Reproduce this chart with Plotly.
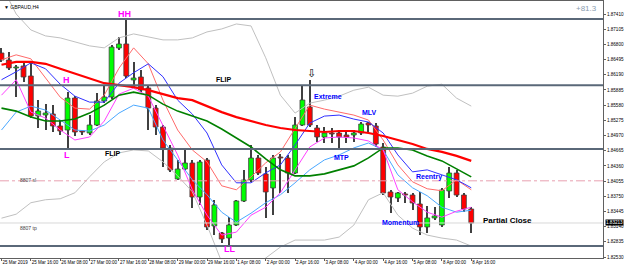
import plotly.graph_objects as go

# ---------------- data ----------------
tick_idx = list(range(0, 65, 4))
tick_text = ["25 Mar 2019", "25 Mar 16:00", "26 Mar 08:00", "27 Mar 00:00", "27 Mar 16:00",
             "28 Mar 08:00", "29 Mar 00:00", "29 Mar 16:00", "1 Apr 08:00", "2 Apr 00:00",
             "2 Apr 16:00", "3 Apr 08:00", "4 Apr 00:00", "4 Apr 16:00", "5 Apr 08:00",
             "8 Apr 00:00", "8 Apr 16:00"]
price_ticks = [1.82530, 1.82835, 1.83140, 1.83445, 1.83750, 1.84055, 1.84360, 1.84665,
               1.84970, 1.85275, 1.85580, 1.85885, 1.86190, 1.86495, 1.86800, 1.87105, 1.87410]

opens = [1.86627, 1.86486, 1.86326, 1.86366, 1.86165, 1.85362, 1.85382, 1.85402, 1.85161, 1.85081,
         1.85723, 1.85061, 1.85020, 1.85181, 1.85663, 1.85743, 1.86727, 1.86808, 1.86085, 1.86145,
         1.85924, 1.85522, 1.85141, 1.84719, 1.84097, 1.84297, 1.84418, 1.83735, 1.84478, 1.83153,
         1.83012, 1.82912, 1.83173, 1.83655, 1.84077, 1.84518, 1.84197, 1.83916, 1.84538, 1.84518,
         1.84217, 1.85181, 1.85542, 1.85121, 1.84940, 1.85020, 1.85020, 1.84980, 1.84980, 1.85020,
         1.85221, 1.85161, 1.84739, 1.83836, 1.83715, 1.83796, 1.83775, 1.83595, 1.83133, 1.83314,
         1.83173, 1.83856, 1.84217, 1.83775, 1.83494]
highs = [1.86727, 1.86647, 1.86386, 1.86426, 1.86426, 1.85683, 1.85603, 1.85583, 1.85281, 1.85844,
         1.85763, 1.85081, 1.85382, 1.85824, 1.85984, 1.86787, 1.86948, 1.87330, 1.86446, 1.86285,
         1.85984, 1.85583, 1.85181, 1.84779, 1.84478, 1.84679, 1.84478, 1.84478, 1.84518, 1.83675,
         1.83032, 1.83334, 1.83675, 1.84277, 1.84779, 1.84579, 1.84338, 1.84579, 1.84599, 1.84579,
         1.85342, 1.85964, 1.86085, 1.85181, 1.85141, 1.85121, 1.85081, 1.85040, 1.85081, 1.85241,
         1.85241, 1.85221, 1.84820, 1.83876, 1.83836, 1.83836, 1.83816, 1.83836, 1.83555, 1.83534,
         1.83916, 1.84338, 1.84277, 1.83816, 1.83534]
lows = [1.86446, 1.86285, 1.85743, 1.86044, 1.85322, 1.85121, 1.85081, 1.85040, 1.84980, 1.84719,
        1.84960, 1.84980, 1.84980, 1.85161, 1.85623, 1.85703, 1.86687, 1.86125, 1.85944, 1.85844,
        1.85081, 1.84980, 1.84338, 1.84237, 1.84077, 1.84277, 1.83514, 1.83575, 1.83073, 1.82972,
        1.82812, 1.82731, 1.83153, 1.83635, 1.84036, 1.84177, 1.83314, 1.83374, 1.83816, 1.83816,
        1.84197, 1.85161, 1.85141, 1.84840, 1.84820, 1.84820, 1.84679, 1.84820, 1.84840, 1.84980,
        1.85020, 1.84739, 1.83775, 1.83414, 1.83635, 1.83615, 1.83474, 1.82972, 1.83012, 1.83273,
        1.83133, 1.83715, 1.83735, 1.83434, 1.83012]
closes = [1.86486, 1.86326, 1.86346, 1.86145, 1.85362, 1.85462, 1.85422, 1.85161, 1.85061, 1.85723,
          1.85040, 1.85040, 1.85181, 1.85663, 1.85743, 1.86747, 1.86808, 1.86165, 1.86125, 1.85884,
          1.85522, 1.85141, 1.84719, 1.84277, 1.84297, 1.84418, 1.83735, 1.84438, 1.83133, 1.83575,
          1.82892, 1.83173, 1.83655, 1.84077, 1.84518, 1.84217, 1.83836, 1.84518, 1.84518, 1.84217,
          1.85181, 1.85683, 1.85181, 1.84940, 1.85020, 1.85000, 1.84940, 1.84940, 1.85020, 1.85201,
          1.85181, 1.84800, 1.83816, 1.83735, 1.83816, 1.83775, 1.83615, 1.83133, 1.83314, 1.83354,
          1.83876, 1.84217, 1.83775, 1.83494, 1.83213]

# indicator values sampled every second bar (bar index 0, 2, ..., 64)
ind_x = list(range(0, 65, 2))
bb_upper = [1.8799, 1.8741, 1.8709, 1.8697, 1.8693, 1.8685, 1.8677, 1.8673, 1.8693, 1.8701, 1.8695,
            1.8689, 1.8689, 1.8693, 1.8705, 1.8711, 1.8721, 1.8717, 1.8653, 1.8578, 1.8542, 1.8562,
            1.8568, 1.8576, 1.8588, 1.8594, 1.8578, 1.8576, 1.8582, 1.8596, 1.8600, 1.8572, 1.8556]
bb_lower = [1.8331, 1.8339, 1.8362, 1.8368, 1.8370, 1.8382, 1.8414, 1.8444, 1.8462, 1.8468, 1.8466,
            1.8444, 1.8416, 1.8384, 1.8317, 1.8243, 1.8217, 1.8227, 1.8251, 1.8273, 1.8287, 1.8287,
            1.8287, 1.8293, 1.8317, 1.8368, 1.8382, 1.8337, 1.8311, 1.8297, 1.8291, 1.8287, 1.8275]
ma_red = [1.8639, 1.8645, 1.8645, 1.8641, 1.8631, 1.8621, 1.8611, 1.8602, 1.8598, 1.8594, 1.8588,
          1.8580, 1.8572, 1.8568, 1.8556, 1.8544, 1.8534, 1.8526, 1.8518, 1.8512, 1.8508, 1.8506,
          1.8504, 1.8506, 1.8506, 1.8502, 1.8496, 1.8488, 1.8480, 1.8470, 1.8464, 1.8456, 1.8446]
ma_green = [1.8552, 1.8546, 1.8534, 1.8526, 1.8526, 1.8530, 1.8542, 1.8558, 1.8578, 1.8584, 1.8578,
            1.8560, 1.8546, 1.8536, 1.8526, 1.8510, 1.8492, 1.8474, 1.8450, 1.8428, 1.8416, 1.8416,
            1.8420, 1.8428, 1.8436, 1.8452, 1.8472, 1.8472, 1.8468, 1.8456, 1.8446, 1.8430, 1.8414]
ma_blue = [1.8609, 1.8625, 1.8643, 1.8631, 1.8600, 1.8576, 1.8564, 1.8564, 1.8602, 1.8623, 1.8641,
           1.8615, 1.8568, 1.8540, 1.8502, 1.8438, 1.8402, 1.8402, 1.8422, 1.8438, 1.8478, 1.8522,
           1.8536, 1.8538, 1.8530, 1.8524, 1.8502, 1.8458, 1.8424, 1.8428, 1.8418, 1.8408, 1.8392]
env_red = [1.8649, 1.8659, 1.8651, 1.8613, 1.8574, 1.8552, 1.8550, 1.8578, 1.8632, 1.8673, 1.8641,
           1.8568, 1.8508, 1.8468, 1.8444, 1.8396, 1.8388, 1.8414, 1.8442, 1.8464, 1.8512, 1.8558,
           1.8550, 1.8544, 1.8538, 1.8528, 1.8488, 1.8438, 1.8404, 1.8390, 1.8386, 1.8408, 1.8388]
env_magenta = [1.8578, 1.8609, 1.8544, 1.8532, 1.8508, 1.8488, 1.8494, 1.8526, 1.8580, 1.8592, 1.8576,
               1.8518, 1.8458, 1.8388, 1.8337, 1.8297, 1.8303, 1.8337, 1.8353, 1.8382, 1.8428, 1.8474,
               1.8492, 1.8494, 1.8492, 1.8486, 1.8468, 1.8388, 1.8364, 1.8343, 1.8333, 1.8345, 1.8353]
ma_lightblue = [1.8508, 1.8544, 1.8556, 1.8548, 1.8528, 1.8508, 1.8506, 1.8518, 1.8542, 1.8558, 1.8552,
                1.8488, 1.8448, 1.8408, 1.8378, 1.8343, 1.8323, 1.8341, 1.8362, 1.8378, 1.8402, 1.8428,
                1.8448, 1.8458, 1.8472, 1.8482, 1.8468, 1.8418, 1.8392, 1.8376, 1.8353, 1.8343, 1.8347]

# horizontal levels
level_hh = 1.8731
level_flip_up = 1.8598
level_flip_dn = 1.8470
level_sl = 1.8406
level_tp = 1.8275

# ---------------- figure ----------------
fig = go.Figure()

n = len(opens)
xs = list(range(n))
body_base = [min(o, c) for o, c in zip(opens, closes)]
body_h = [max(abs(c - o), 0.00004) for o, c in zip(opens, closes)]
body_col = ["#00ff00" if c >= o else "#ff0000" for o, c in zip(opens, closes)]

fig.add_trace(go.Bar(x=xs, y=[h - l for h, l in zip(highs, lows)], base=lows, width=0.14,
                     marker=dict(color="#404040", line=dict(width=0)), hoverinfo="skip"))
fig.add_trace(go.Bar(x=xs, y=body_h, base=body_base, width=0.66,
                     marker=dict(color=body_col, line=dict(color="#404040", width=0.8)),
                     hoverinfo="skip"))

def line(y, color, width, dash="solid"):
    fig.add_trace(go.Scatter(x=ind_x, y=y, mode="lines", line=dict(color=color, width=width, dash=dash),
                             hoverinfo="skip"))

line(bb_upper, "#c0c0c0", 1)
line(bb_lower, "#c0c0c0", 1)
line(ma_lightblue, "#4aa8ff", 1)
line(env_magenta, "#ff40ff", 1)
line(env_red, "#ff6a6a", 1)
line(ma_blue, "#3030ff", 1)
line(ma_green, "#008000", 1.6)
line(ma_red, "#ff0000", 2.2)

# horizontal level lines
for lv in [level_hh, level_flip_up, level_flip_dn, level_tp]:
    fig.add_hline(y=lv, line=dict(color="#5a6878", width=2))
fig.add_hline(y=level_sl, line=dict(color="#e8a0b0", width=1, dash="dashdot"))
fig.add_hline(y=closes[-1], line=dict(color="#d8d8d8", width=1))

def ann(x, y, text, color, size, bold=True, **kw):
    fig.add_annotation(x=x, y=y, text=("<b>%s</b>" % text) if bold else text, showarrow=False,
                       font=dict(family="Liberation Sans", size=size, color=color), **kw)

ann(16.8, 1.8741, "HH", "#ff00ff", 9)
ann(8.9, 1.8609, "H", "#ff00ff", 9)
ann(8.9, 1.8458, "L", "#ff00ff", 9)
ann(31.0, 1.8269, "LL", "#ff00ff", 9)
ann(30.2, 1.8609, "FLIP", "#000000", 7)
ann(15.1, 1.8460, "FLIP", "#000000", 7)
ann(44.5, 1.8576, "Extreme", "#0000ff", 7)
ann(50.2, 1.8544, "MLV", "#0000ff", 7)
ann(46.3, 1.8452, "MTP", "#0000ff", 7)
ann(58.2, 1.8414, "Reentry", "#0000ff", 7)
ann(54.3, 1.8323, "Momentum", "#0000ff", 7)
ann(65.3, 1.8327, "Partial Close", "#000000", 8, xanchor="left")
ann(2.3, 1.8408, "8807 sl", "#404040", 5, bold=False, xanchor="left")
ann(2.3, 1.8311, "8807 tp", "#404040", 5, bold=False, xanchor="left")
fig.add_annotation(x=42.2, y=1.8621, text="⇩", showarrow=False,
                   font=dict(family="DejaVu Sans", size=11, color="#000000"))

# chart header texts
fig.add_annotation(xref="paper", yref="paper", x=0.004, y=0.995, xanchor="left", yanchor="top",
                   text="▼ GBPAUD,H4", showarrow=False,
                   font=dict(family="Liberation Sans", size=5, color="#000000"))
fig.add_annotation(xref="paper", yref="paper", x=0.993, y=0.995, xanchor="right", yanchor="top",
                   text="+81.3", showarrow=False,
                   font=dict(family="Liberation Sans", size=8, color="#8a9db0"))
# current price tag on the axis
fig.add_annotation(xref="paper", x=1.003, y=closes[-1], xanchor="left", yanchor="middle",
                   text="%.5f" % closes[-1], showarrow=False, bgcolor="#000000",
                   font=dict(family="Liberation Sans", size=4.6, color="#ffffff"), borderpad=0)

fig.update_layout(
    width=625, height=268, margin=dict(l=0, r=22, t=1, b=10, autoexpand=False),
    paper_bgcolor="white", plot_bgcolor="white", showlegend=False, barmode="overlay",
    xaxis=dict(range=[-0.204, 81.95], tickmode="array", tickvals=tick_idx, ticktext=tick_text,
               tickangle=0, automargin=False,
               showgrid=False, zeroline=False, showline=True, linecolor="#606060", linewidth=1,
               mirror=True, ticks="outside", ticklen=2, tickcolor="#606060",
               ticklabelposition="outside right",
               tickfont=dict(family="Liberation Sans", size=4.5, color="#000000")),
    yaxis=dict(range=[1.82510, 1.87671], side="right", tickmode="array", tickvals=price_ticks,
               tickformat=".5f", showgrid=False, zeroline=False, showline=True, automargin=False,
               linecolor="#606060", linewidth=1, mirror=True, ticks="outside", ticklen=2,
               tickcolor="#606060",
               tickfont=dict(family="Liberation Sans", size=4.6, color="#000000")),
)

fig.write_html("out.html")
